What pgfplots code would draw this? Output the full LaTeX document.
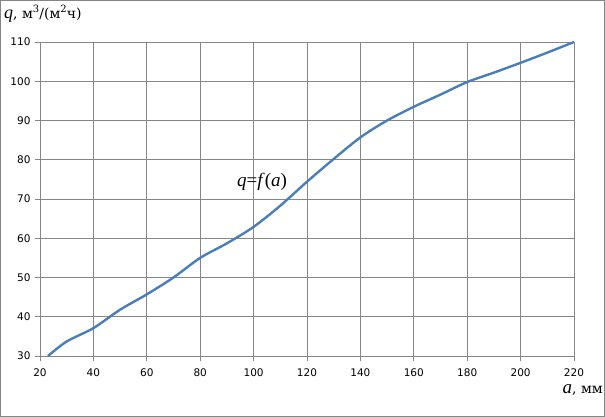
\documentclass[border=0pt]{standalone}
\usepackage{pgfplots}
\pgfplotsset{compat=1.18}
\usepackage{fontspec}
\setmainfont{Liberation Serif}
\newfontfamily\ticksfont{DejaVu Sans}
\newfontfamily\cyrfont{DejaVu Serif}
\definecolor{gridc}{HTML}{868686}
\definecolor{linec}{HTML}{4A7EBB}
\begin{document}
\begin{tikzpicture}
\path[use as bounding box] (0,0) rectangle (605pt,417pt);
\draw[gridc, line width=0.9pt] (0.5pt,0.5pt) rectangle (604.5pt,416.5pt);
\begin{axis}[
  at={(40pt,61pt)}, anchor=south west,
  scale only axis, width=534pt, height=314pt,
  xmin=20, xmax=220, ymin=30, ymax=110,
  xtick={20,40,...,220}, ytick={30,40,...,110},
  grid=major,
  major grid style={gridc, line width=0.8pt},
  axis line style={gridc, line width=0.8pt},
  tick style={gridc, line width=0.8pt},
  tick align=outside, major tick length=5pt,
  xtick pos=bottom, ytick pos=left,
  /pgf/number format/assume math mode=true,
  ticklabel style={font=\ticksfont\fontsize{10.5}{12}\selectfont, text=black},
  xticklabel style={yshift=-4pt},
  yticklabel style={xshift=-1pt},
  clip=false,
]
\addplot[linec, line width=2.4pt, smooth, tension=0.5] coordinates {
(23,30) (30,33.7) (40,37.1) (50,41.8) (60,45.7) (70,50) (80,55) (90,58.7)
(100,62.9) (110,68.3) (120,74.4) (130,80.2) (140,85.7) (150,90) (160,93.5)
(170,96.6) (180,99.8) (190,102.2) (200,104.7) (210,107.3) (220,110)
};
\end{axis}
\node[anchor=base west, inner sep=0pt] at (4pt,398pt) {\fontsize{18}{20}\selectfont\textit{q}\cyrfont\fontsize{14}{16}\selectfont, м\raisebox{0.45em}{\fontsize{10}{12}\selectfont 3}/(м\raisebox{0.45em}{\fontsize{10}{12}\selectfont 2}ч)};
\node[anchor=base east, inner sep=0pt] at (603pt,23pt) {\fontsize{19}{21}\selectfont\textit{a}\cyrfont\fontsize{14}{16}\selectfont, мм};
\node[anchor=base west, inner sep=0pt] at (237pt,230pt) {\fontsize{19}{21}\selectfont\textit{q}=\textit{f}(\textit{a})};
\end{tikzpicture}
\end{document}
